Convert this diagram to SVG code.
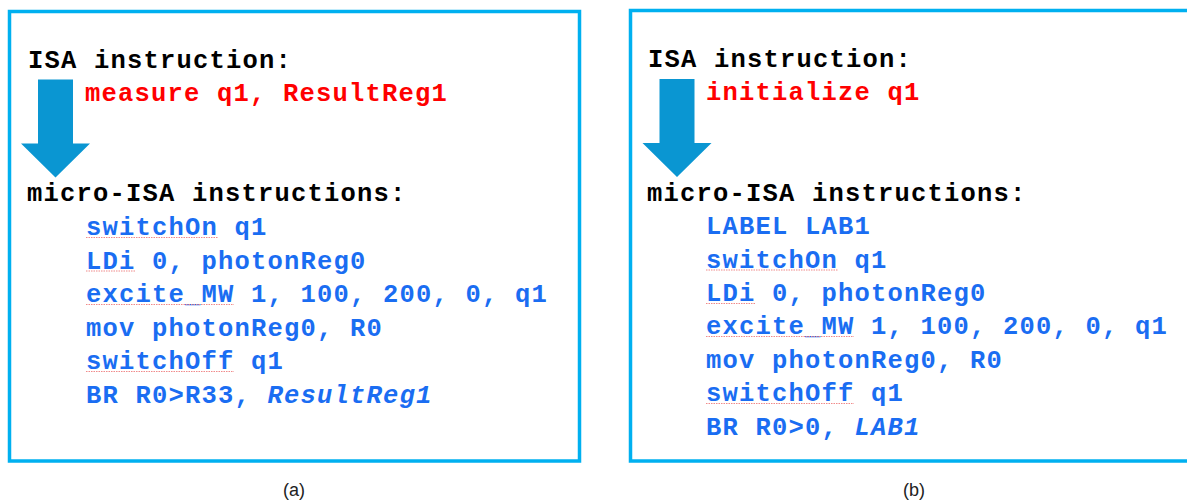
<svg xmlns="http://www.w3.org/2000/svg" width="1187" height="502" viewBox="0 0 1187 502">
  <style>
    .box { fill: #ffffff; stroke: #00b0f0; stroke-width: 3.5; }
    .code { font-family: "Liberation Mono", "Courier New", monospace; font-weight: bold; font-size: 25.5px; letter-spacing: 1.2px; }
    .hdr { fill: #000000; }
    .isa { fill: #ff0000; }
    .micro { fill: #1a6df2; }
    .it { font-style: italic; }
    .arrow { fill: #0a96d2; }
    .spell { stroke: #f08a8a; stroke-width: 1.2; stroke-dasharray: 1.5 1; fill: none; }
    .cap { font-family: "Liberation Sans", Arial, sans-serif; font-size: 18px; fill: #222222; text-anchor: middle; }
  </style>
  <defs>
    <!-- block arrow pointing down, origin at top-left of the shaft -->
    <path id="downArrow" d="M0 0 H35 V64 H52 L17.5 98 L-17 64 H0 Z"/>
  </defs>

  <rect width="1187" height="502" fill="#ffffff"/>

  <!-- (a) measure expansion -->
  <g id="panel-a">
    <rect class="box" x="9.5" y="11.5" width="570" height="449.5"/>
    <use href="#downArrow" class="arrow" x="38" y="79.5"/>
    <g class="code">
      <text class="hdr" x="28" y="67.5">ISA instruction:</text>
      <text class="isa" x="85" y="101">measure q1, ResultReg1</text>
      <text class="hdr" x="27" y="201">micro-ISA instructions:</text>
      <text class="micro" x="86" y="235">switchOn q1</text>
      <text class="micro" x="86" y="268.5">LDi 0, photonReg0</text>
      <text class="micro" x="86" y="302">excite_MW 1, 100, 200, 0, q1</text>
      <text class="micro" x="86" y="335.5">mov photonReg0, R0</text>
      <text class="micro" x="86" y="369">switchOff q1</text>
      <text class="micro" x="86" y="402.5">BR R0&gt;R33, <tspan class="it">ResultReg1</tspan></text>
    </g>
    <g id="spell-a">
      <line class="spell" x1="86" y1="237.5" x2="218" y2="237.5"/>
      <line class="spell" x1="86" y1="271" x2="135" y2="271"/>
      <line class="spell" x1="86" y1="304.5" x2="234" y2="304.5"/>
      <line class="spell" x1="86" y1="371.5" x2="234" y2="371.5"/>
    </g>
    <text class="cap" x="294" y="496">(a)</text>
  </g>

  <!-- (b) initialize expansion -->
  <g id="panel-b">
    <rect class="box" x="630.5" y="10.5" width="570" height="450.5"/>
    <use href="#downArrow" class="arrow" x="659.5" y="79"/>
    <g class="code">
      <text class="hdr" x="648" y="67">ISA instruction:</text>
      <text class="isa" x="706" y="100">initialize q1</text>
      <text class="hdr" x="647" y="200.5">micro-ISA instructions:</text>
      <text class="micro" x="706" y="234">LABEL LAB1</text>
      <text class="micro" x="706" y="267.5">switchOn q1</text>
      <text class="micro" x="706" y="301">LDi 0, photonReg0</text>
      <text class="micro" x="706" y="334">excite_MW 1, 100, 200, 0, q1</text>
      <text class="micro" x="706" y="367.5">mov photonReg0, R0</text>
      <text class="micro" x="706" y="401">switchOff q1</text>
      <text class="micro" x="706" y="434.5">BR R0&gt;0, <tspan class="it">LAB1</tspan></text>
    </g>
    <g id="spell-b">
      <line class="spell" x1="706" y1="270" x2="838" y2="270"/>
      <line class="spell" x1="706" y1="303.5" x2="755" y2="303.5"/>
      <line class="spell" x1="706" y1="336.5" x2="854" y2="336.5"/>
      <line class="spell" x1="706" y1="403.5" x2="854" y2="403.5"/>
    </g>
    <text class="cap" x="914" y="496">(b)</text>
  </g>
</svg>
